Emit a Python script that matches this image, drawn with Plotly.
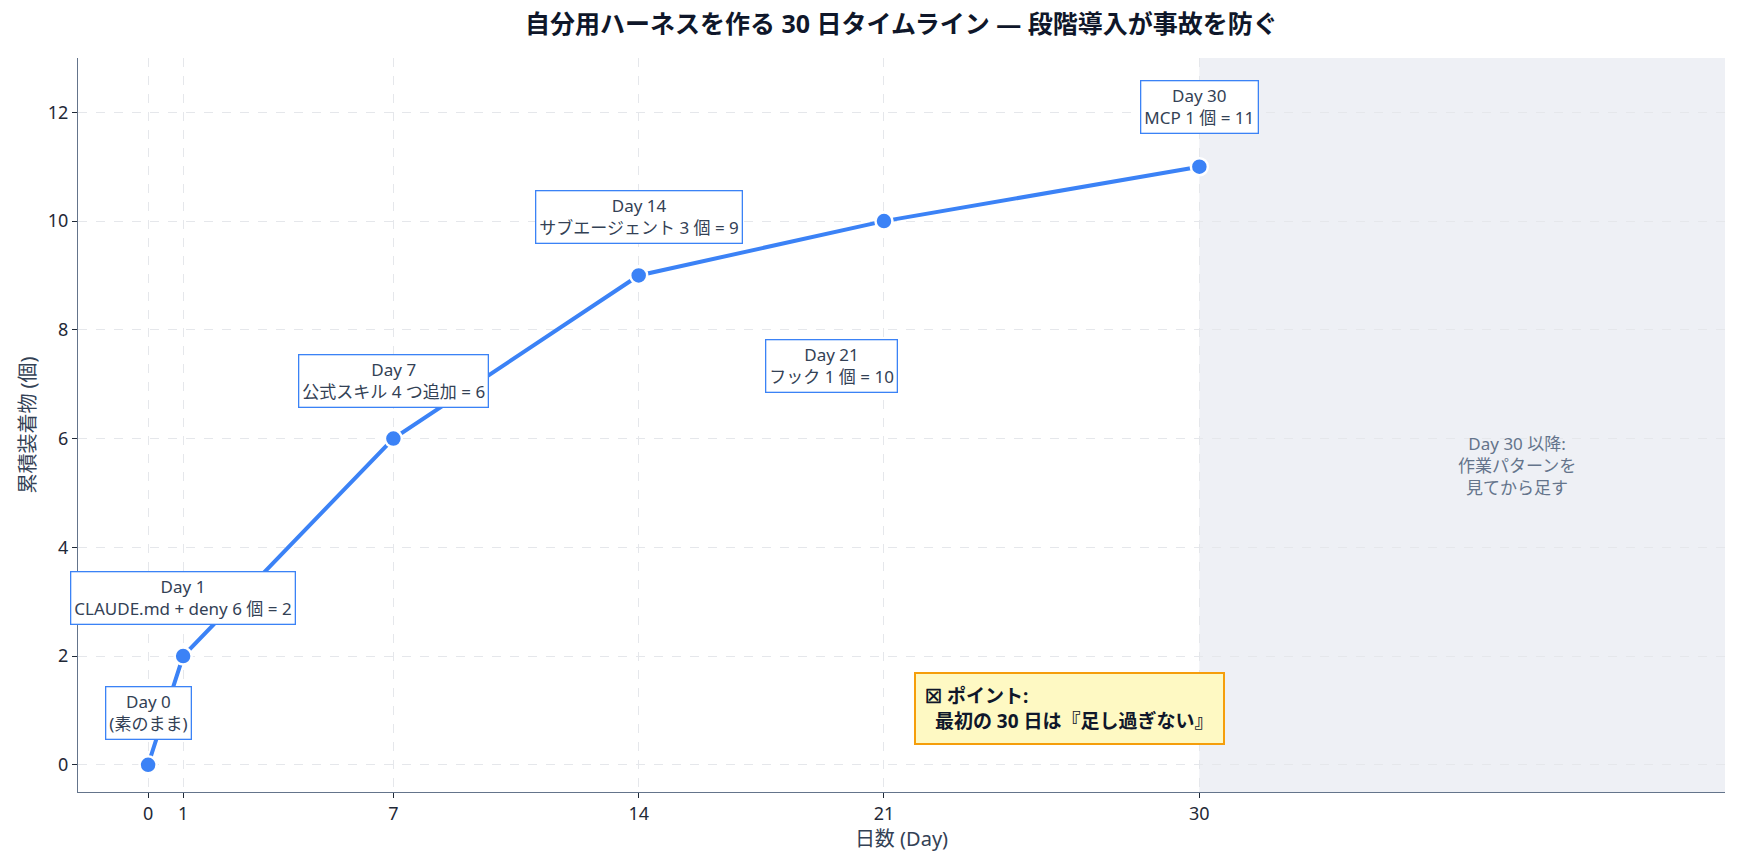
import plotly.graph_objects as go

days = [0, 1, 7, 14, 21, 30]
cumulative = [0, 2, 6, 9, 10, 11]
x_ticks = [0, 1, 7, 14, 21, 30]

label_texts = [
    "Day 0<br>(素のまま)",
    "Day 1<br>CLAUDE.md + deny 6 個 = 2",
    "Day 7<br>公式スキル 4 つ追加 = 6",
    "Day 14<br>サブエージェント 3 個 = 9",
    "Day 21<br>フック 1 個 = 10",
    "Day 30<br>MCP 1 個 = 11",
]
label_x = [0, 1, 7, 14, 19.5, 30]
label_y = [0.96, 3.07, 7.06, 10.08, 7.34, 12.09]

FONT = "Noto Sans, Noto Sans CJK JP"
BLUE = "#3b82f6"

fig = go.Figure()

fig.add_shape(type="rect", xref="x", yref="paper", x0=30, x1=45, y0=0, y1=1,
              fillcolor="#eef0f5", line=dict(width=0), layer="below")

fig.add_trace(go.Scatter(
    x=days, y=cumulative, mode="lines+markers",
    line=dict(color=BLUE, width=4),
    marker=dict(size=17, color=BLUE, line=dict(color="white", width=2.5)),
    hoverinfo="skip", showlegend=False,
))

for t, lx, ly in zip(label_texts, label_x, label_y):
    fig.add_annotation(x=lx, y=ly, xref="x", yref="y", text=t, showarrow=False,
                       font=dict(family=FONT, size=17, color="#334155"),
                       bgcolor="white", bordercolor=BLUE, borderwidth=1.3, borderpad=3,
                       align="center")

fig.add_annotation(x=39.05, y=5.5, xref="x", yref="y",
                   text="Day 30 以降:<br>作業パターンを<br>見てから足す",
                   showarrow=False, align="center",
                   font=dict(family=FONT, size=17, color="#64748b"))

fig.add_annotation(x=26.3, y=1.03, xref="x", yref="y",
                   text="<b>☒ ポイント:<br>  最初の 30 日は『足し過ぎない』</b>",
                   showarrow=False, align="left",
                   font=dict(family=FONT, size=19, color="#0f172a"),
                   bgcolor="#fef9c3", bordercolor="#f59e0b", borderwidth=2, borderpad=9)

grid = dict(showgrid=True, gridcolor="#e5e7eb", griddash="dash", gridwidth=1)

fig.update_layout(
    width=1738, height=867,
    margin=dict(l=78, r=13, t=58, b=75),
    paper_bgcolor="white", plot_bgcolor="white",
    font=dict(family=FONT, size=18, color="#1f2937"),
    title=dict(text="<b>自分用ハーネスを作る 30 日タイムライン — 段階導入が事故を防ぐ</b>",
               x=0.5186, xanchor="center", y=0.972, yanchor="middle",
               font=dict(family=FONT, size=25, color="#0f172a")),
    xaxis=dict(range=[-2, 45], tickvals=x_ticks, ticktext=[str(v) for v in x_ticks],
               showline=True, linecolor="#64748b", linewidth=1.3, zeroline=False,
               ticks="outside", ticklen=5, tickcolor="#1f2937",
               title=dict(text="日数 (Day)", font=dict(size=20, color="#334155"), standoff=6),
               **grid),
    yaxis=dict(range=[-0.5, 13], tickvals=[0, 2, 4, 6, 8, 10, 12],
               showline=True, linecolor="#64748b", linewidth=1.3, zeroline=False,
               ticks="outside", ticklen=5, tickcolor="#1f2937",
               title=dict(text="累積装着物 (個)", font=dict(size=20, color="#334155"), standoff=6),
               **grid),
)

fig.write_html("out.html")
